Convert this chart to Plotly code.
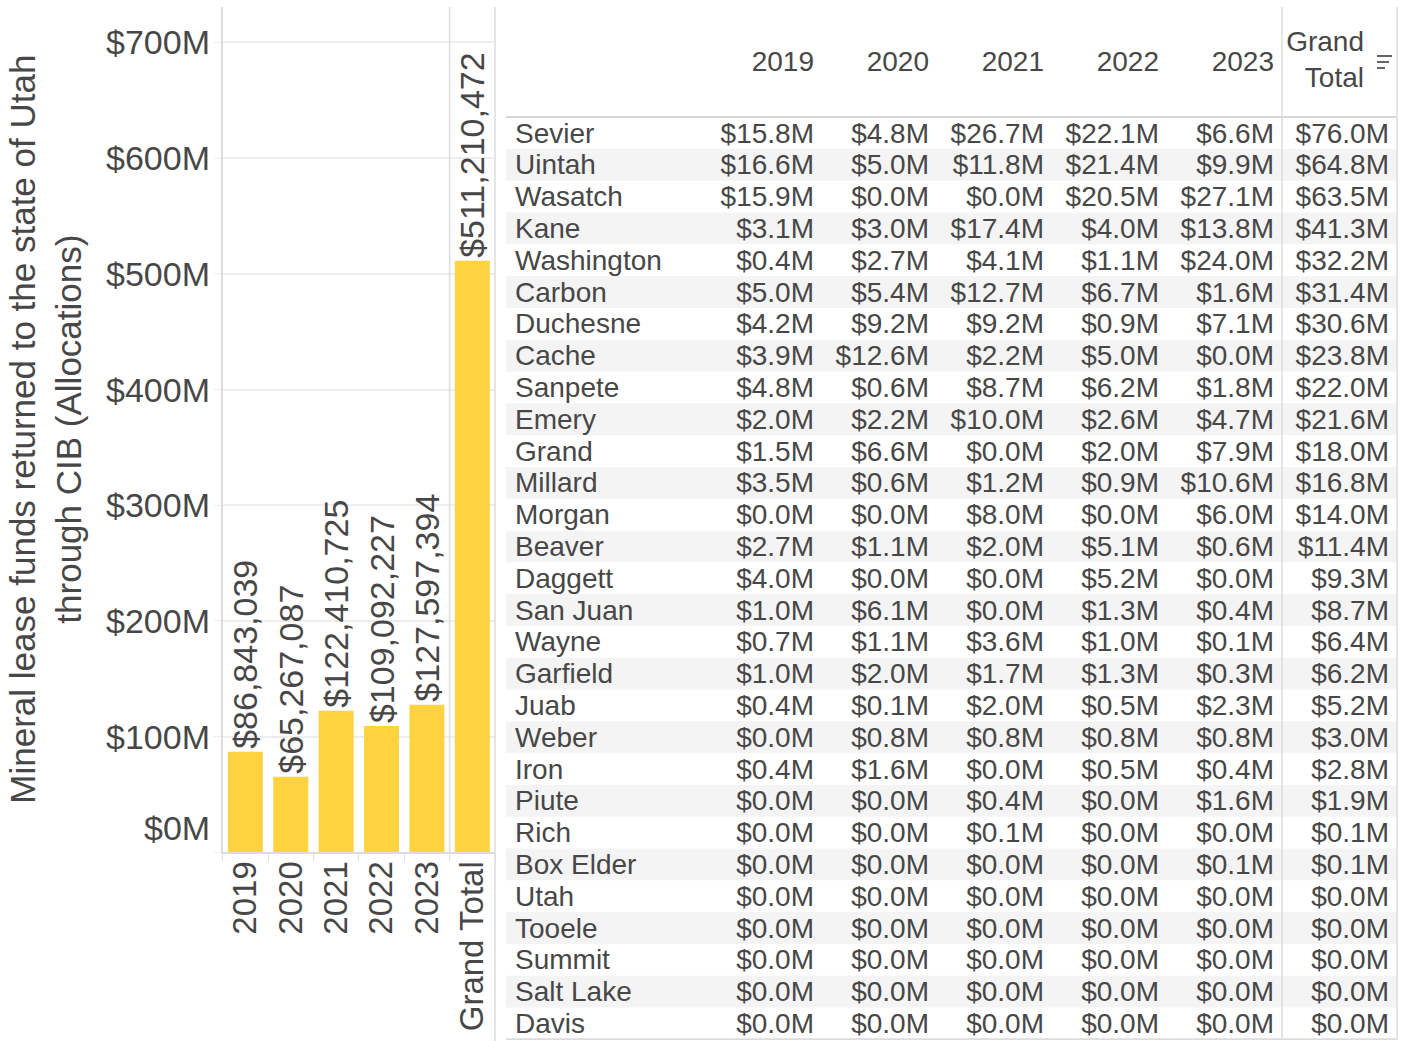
import plotly.graph_objects as go

# ---------------- data ----------------
bar_categories = ["2019", "2020", "2021", "2022", "2023", "Grand Total"]
bar_values = [86843039, 65267087, 122410725, 109092227, 127597394, 511210472]

y_tick_values = [0, 100e6, 200e6, 300e6, 400e6, 500e6, 600e6, 700e6]
y_tick_labels = ["$0M", "$100M", "$200M", "$300M", "$400M", "$500M", "$600M", "$700M"]

y_title = "Mineral lease funds returned to the state of Utah<br>through CIB (Allocations)"

table_headers = ["2019", "2020", "2021", "2022", "2023"]
grand_header = "Grand<br>Total"

counties = ["Sevier", "Uintah", "Wasatch", "Kane", "Washington", "Carbon", "Duchesne",
            "Cache", "Sanpete", "Emery", "Grand", "Millard", "Morgan", "Beaver",
            "Daggett", "San Juan", "Wayne", "Garfield", "Juab", "Weber", "Iron",
            "Piute", "Rich", "Box Elder", "Utah", "Tooele", "Summit", "Salt Lake", "Davis"]
v2019 = [15.8, 16.6, 15.9, 3.1, 0.4, 5.0, 4.2, 3.9, 4.8, 2.0, 1.5, 3.5, 0.0, 2.7,
         4.0, 1.0, 0.7, 1.0, 0.4, 0.0, 0.4, 0.0, 0.0, 0.0, 0.0, 0.0, 0.0, 0.0, 0.0]
v2020 = [4.8, 5.0, 0.0, 3.0, 2.7, 5.4, 9.2, 12.6, 0.6, 2.2, 6.6, 0.6, 0.0, 1.1,
         0.0, 6.1, 1.1, 2.0, 0.1, 0.8, 1.6, 0.0, 0.0, 0.0, 0.0, 0.0, 0.0, 0.0, 0.0]
v2021 = [26.7, 11.8, 0.0, 17.4, 4.1, 12.7, 9.2, 2.2, 8.7, 10.0, 0.0, 1.2, 8.0, 2.0,
         0.0, 0.0, 3.6, 1.7, 2.0, 0.8, 0.0, 0.4, 0.1, 0.0, 0.0, 0.0, 0.0, 0.0, 0.0]
v2022 = [22.1, 21.4, 20.5, 4.0, 1.1, 6.7, 0.9, 5.0, 6.2, 2.6, 2.0, 0.9, 0.0, 5.1,
         5.2, 1.3, 1.0, 1.3, 0.5, 0.8, 0.5, 0.0, 0.0, 0.0, 0.0, 0.0, 0.0, 0.0, 0.0]
v2023 = [6.6, 9.9, 27.1, 13.8, 24.0, 1.6, 7.1, 0.0, 1.8, 4.7, 7.9, 10.6, 6.0, 0.6,
         0.0, 0.4, 0.1, 0.3, 2.3, 0.8, 0.4, 1.6, 0.0, 0.1, 0.0, 0.0, 0.0, 0.0, 0.0]
grand_total = [76.0, 64.8, 63.5, 41.3, 32.2, 31.4, 30.6, 23.8, 22.0, 21.6, 18.0, 16.8,
               14.0, 11.4, 9.3, 8.7, 6.4, 6.2, 5.2, 3.0, 2.8, 1.9, 0.1, 0.1, 0.0, 0.0,
               0.0, 0.0, 0.0]

# ---------------- styling / layout ----------------
W, H = 1408, 1041
FONT = "Liberation Sans, Arial, sans-serif"
TXT = "#474747"
BAR = "#FFD23F"
GRID = "#EDEDED"
LINE = "#DCDCDC"
BAND = "#F4F4F4"


def px(x):
    return x / W


def py(y):
    return 1 - y / H


# bar pane
BAR_L, BAR_R, BAR_TOP, BAR_BOT = 222.7, 495, 7, 852.3
PX_PER_100M = 115.7
y_max = (BAR_BOT - BAR_TOP) / PX_PER_100M * 100e6

# table pane
TAB_L, TAB_R, TAB_TOP, TAB_BOT = 506, 1397, 7, 1040
COL0_RIGHT, COL_W = 814, 115
ROW0, ROW_H = 133, 31.8
TEXT_DY = 2.5 / ROW_H  # small downward nudge so glyphs sit centred in rows
x2_range = [(TAB_L - COL0_RIGHT) / COL_W, (TAB_R - COL0_RIGHT) / COL_W]
y2_range = [(TAB_BOT - ROW0) / ROW_H, (TAB_TOP - ROW0) / ROW_H]
name_x = (515 - COL0_RIGHT) / COL_W
header_y = (64 - ROW0) / ROW_H
grand_header_y = (62 - ROW0) / ROW_H
grand_header_x = (1364 - COL0_RIGHT) / COL_W
gt_sep_x = (1282 - COL0_RIGHT) / COL_W

fig = go.Figure()

fig.add_trace(go.Bar(
    x=bar_categories, y=bar_values,
    marker=dict(color=BAR, line=dict(width=0)),
    texttemplate="$%{y:,.0f}", textposition="outside", textangle=-90,
    textfont=dict(size=34, color=TXT, family=FONT),
    constraintext="none", cliponaxis=False,
    xaxis="x", yaxis="y", showlegend=False, hoverinfo="skip",
))

n = len(counties)
rows = list(range(n))
text_rows = [r + TEXT_DY for r in rows]

fig.add_trace(go.Scatter(
    x=[name_x] * n, y=text_rows, mode="text", text=counties, textposition="middle right",
    textfont=dict(size=28, color=TXT, family=FONT),
    xaxis="x2", yaxis="y2", showlegend=False, hoverinfo="skip",
))

columns = [v2019, v2020, v2021, v2022, v2023, grand_total]
for k, col in enumerate(columns):
    fig.add_trace(go.Scatter(
        x=[k] * n, y=text_rows, mode="text",
        text=["$%.1fM" % v for v in col], textposition="middle left",
        textfont=dict(size=28, color=TXT, family=FONT),
        xaxis="x2", yaxis="y2", showlegend=False, hoverinfo="skip",
    ))

fig.add_trace(go.Scatter(
    x=list(range(len(table_headers))), y=[header_y] * len(table_headers), mode="text",
    text=table_headers, textposition="middle left",
    textfont=dict(size=28, color=TXT, family=FONT),
    xaxis="x2", yaxis="y2", showlegend=False, hoverinfo="skip",
))
fig.add_trace(go.Scatter(
    x=[grand_header_x], y=[grand_header_y], mode="text",
    text=[grand_header], textposition="middle left",
    textfont=dict(size=28, color=TXT, family=FONT),
    xaxis="x2", yaxis="y2", showlegend=False, hoverinfo="skip",
))

shapes = []
# banding
for r in rows:
    if r % 2 == 1:
        shapes.append(dict(type="rect", xref="x2 domain", yref="y2", x0=0, x1=1,
                           y0=r - 0.5, y1=r + 0.5, fillcolor=BAND,
                           line=dict(width=0), layer="below"))
# header underline
shapes.append(dict(type="line", xref="x2 domain", yref="y2", x0=0, x1=1,
                   y0=-0.5, y1=-0.5, line=dict(color="#C8C8C8", width=1.5)))
# table bottom line
shapes.append(dict(type="line", xref="x2 domain", yref="y2", x0=0, x1=1,
                   y0=n - 0.5, y1=n - 0.5, line=dict(color=LINE, width=2)))
# grand total separator in table
shapes.append(dict(type="line", xref="x2", yref="y2 domain", x0=gt_sep_x, x1=gt_sep_x,
                   y0=0, y1=1, line=dict(color=LINE, width=1.5)))
# table right border
shapes.append(dict(type="line", xref="x2 domain", yref="y2 domain", x0=1, x1=1,
                   y0=0, y1=1, line=dict(color=LINE, width=1.5)))
# bar pane: separator before grand total
shapes.append(dict(type="line", xref="x", yref="y domain", x0=4.5, x1=4.5,
                   y0=0, y1=1, line=dict(color=LINE, width=1.5)))
# bar pane right border (full height)
shapes.append(dict(type="line", xref="x domain", yref="paper", x0=1, x1=1,
                   y0=0, y1=py(BAR_TOP), line=dict(color=LINE, width=1.5)))
# sort icon
for i, (x0, x1) in enumerate([(1377, 1392), (1377, 1389), (1377, 1385)]):
    yy = py(56 + 6 * i)
    shapes.append(dict(type="line", xref="paper", yref="paper", x0=px(x0), x1=px(x1),
                       y0=yy, y1=yy, line=dict(color="#666666", width=2)))

annotations = []
for v, lab in zip(y_tick_values, y_tick_labels):
    annotations.append(dict(
        x=px(212), xref="paper", y=v, yref="y", text=lab, showarrow=False,
        xanchor="right", yanchor="middle", yshift=24 if v == 0 else 0,
        font=dict(size=34, color=TXT, family=FONT),
    ))
annotations.append(dict(
    x=px(46), xref="paper", y=py((BAR_TOP + BAR_BOT) / 2), yref="paper",
    text=y_title, showarrow=False, textangle=-90, xanchor="center", yanchor="middle",
    font=dict(size=35, color=TXT, family=FONT),
))

fig.update_layout(
    width=W, height=H,
    margin=dict(l=0, r=0, t=0, b=0),
    paper_bgcolor="white", plot_bgcolor="white",
    bargap=0.23,
    font=dict(family=FONT, color=TXT),
    xaxis=dict(
        domain=[px(BAR_L), px(BAR_R)], anchor="y", type="category",
        range=[-0.5, 5.5], tickson="boundaries", ticks="outside", ticklen=7,
        tickcolor=LINE, showline=True, linecolor=LINE, linewidth=1.5,
        showgrid=False, tickangle=-90, ticklabelstandoff=-6,
        tickfont=dict(size=33, color=TXT, family=FONT), fixedrange=True,
    ),
    yaxis=dict(
        domain=[py(BAR_BOT), py(BAR_TOP)], anchor="x", range=[0, y_max],
        tickvals=y_tick_values, showticklabels=False, ticks="outside", ticklen=7,
        tickcolor=GRID, showgrid=True, gridcolor=GRID, gridwidth=1.5,
        showline=True, linecolor=LINE, linewidth=1.5, zeroline=False, fixedrange=True,
    ),
    xaxis2=dict(
        domain=[px(TAB_L), px(TAB_R)], anchor="y2", range=x2_range,
        visible=False, fixedrange=True,
    ),
    yaxis2=dict(
        domain=[py(TAB_BOT), py(TAB_TOP)], anchor="x2", range=y2_range,
        visible=False, fixedrange=True,
    ),
    shapes=shapes,
    annotations=annotations,
)

fig.write_html(
    "out.html",
    config={"displayModeBar": False},
    post_script="document.body.style.margin='0px';document.body.style.overflow='hidden';",
)
